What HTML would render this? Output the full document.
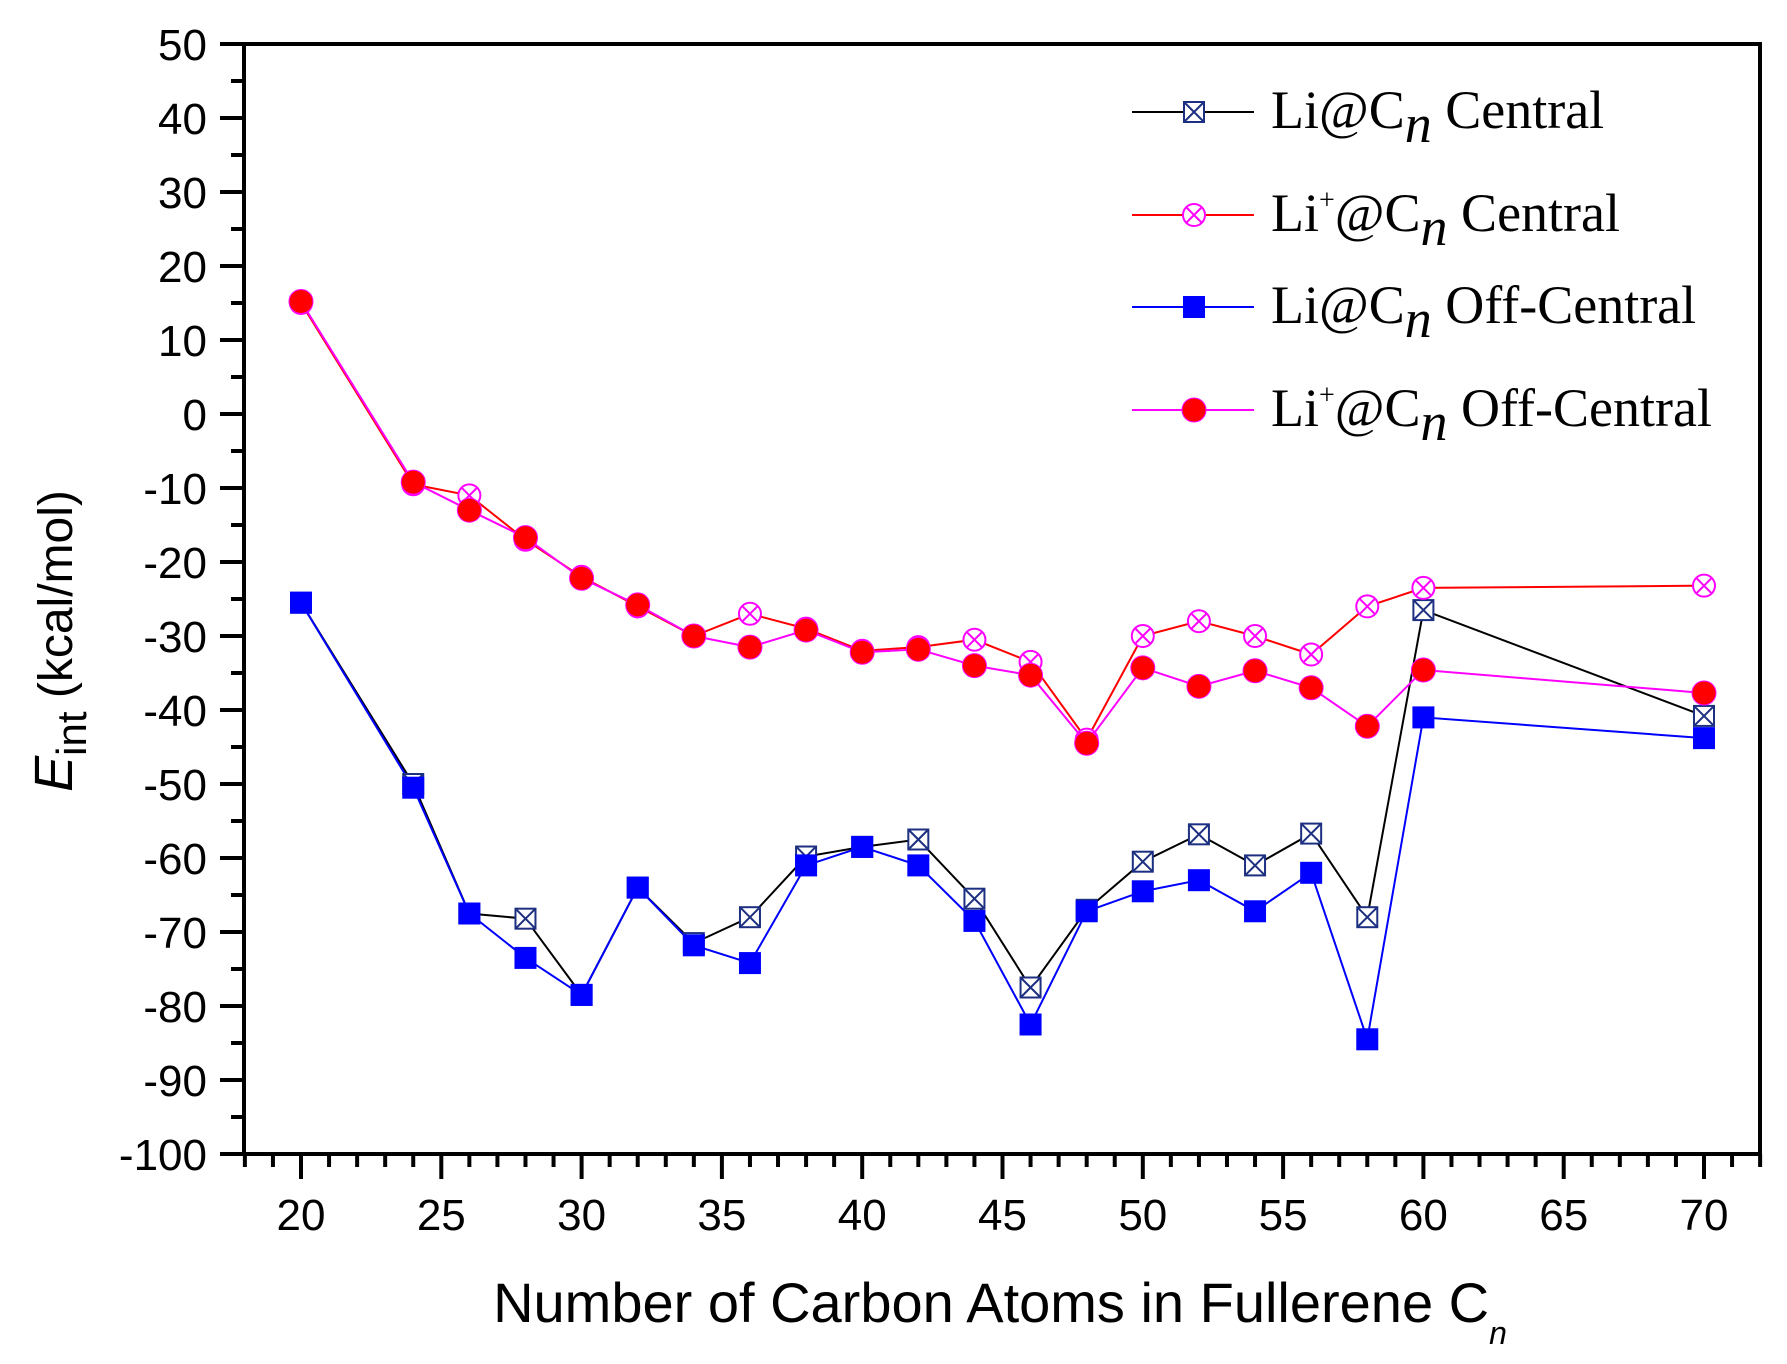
<!DOCTYPE html>
<html><head><meta charset="utf-8"><style>
html,body{margin:0;padding:0;background:#fff}
svg{display:block}
</style></head><body>
<svg id="c" width="1787" height="1364" xmlns="http://www.w3.org/2000/svg">
<g id="g"></g>
<g font-family="Liberation Sans, Arial, sans-serif" font-size="44" fill="#000" text-anchor="end" id="yl"></g>
<g font-family="Liberation Sans, Arial, sans-serif" font-size="44" fill="#000" text-anchor="middle" id="xl"></g>
<text x="1000" y="1322" font-family="Liberation Sans, Arial, sans-serif" font-size="56" text-anchor="middle">Number of Carbon Atoms in Fullerene C<tspan font-size="32" font-style="italic" dy="22">n</tspan></text>
<text transform="translate(72,641) rotate(-90)" font-family="Liberation Sans, Arial, sans-serif" font-size="48" text-anchor="middle"><tspan font-style="italic" font-size="54">E</tspan><tspan font-size="42" dy="14">int</tspan><tspan dy="-14"> (kcal/mol)</tspan></text>
<g font-family="Liberation Serif, serif" font-size="54" fill="#000">
<text x="1271" y="128">Li@C<tspan font-style="italic" dy="14">n</tspan><tspan dy="-14"> Central</tspan></text>
<text x="1271" y="231">Li<tspan font-size="28" dy="-22">+</tspan><tspan dy="22">@C</tspan><tspan font-style="italic" dy="14">n</tspan><tspan dy="-14"> Central</tspan></text>
<text x="1271" y="323">Li@C<tspan font-style="italic" dy="14">n</tspan><tspan dy="-14"> Off-Central</tspan></text>
<text x="1271" y="426">Li<tspan font-size="28" dy="-22">+</tspan><tspan dy="22">@C</tspan><tspan font-style="italic" dy="14">n</tspan><tspan dy="-14"> Off-Central</tspan></text>
</g>
</svg>
<script>
const NS="http://www.w3.org/2000/svg";
const g=document.getElementById('g');
function el(t,a,p){const e=document.createElementNS(NS,t);for(const k in a)e.setAttribute(k,a[k]);(p||g).appendChild(e);return e;}
const X=n=>301+28.06*(n-20), Y=v=>414-7.4*v;
const L=244,R=1760,T=44,B=1154;
el('rect',{x:L,y:T,width:R-L,height:B-T,fill:'none',stroke:'#000','stroke-width':4});
for(let v=-100;v<=50;v+=5){const maj=v%10===0;el('line',{x1:L-(maj?24:13),x2:L,y1:Y(v),y2:Y(v),stroke:'#000','stroke-width':4});
 if(maj){const t=el('text',{x:207,y:Y(v)+16},document.getElementById('yl'));t.textContent=v;}}
for(let n=18;n<=72;n++){const maj=n%5===0;el('line',{x1:X(n),x2:X(n),y1:B,y2:B+(maj?25:13),stroke:'#000','stroke-width':4});
 if(maj&&n>=20&&n<=70){const t=el('text',{x:X(n),y:1230},document.getElementById('xl'));t.textContent=n;}}
const N=[20,24,26,28,30,32,34,36,38,40,42,44,46,48,50,52,54,56,58,60,70];
const A=[-25.5,-50,-67.5,-68.2,-78.5,-64,-71.5,-68,-59.8,-58.5,-57.5,-65.5,-77.5,-67,-60.5,-56.8,-61,-56.7,-68,-26.5,-40.8];
const Bv=[-25.5,-50.5,-67.5,-73.5,-78.5,-64,-71.8,-74.2,-61,-58.5,-61,-68.5,-82.5,-67.2,-64.5,-63,-67.2,-62,-84.5,-41,-43.8];
const C=[15,-9.5,-11,-17,-22,-26,-30,-27,-29,-32,-31.5,-30.5,-33.5,-44,-30,-28,-30,-32.5,-26,-23.5,-23.2];
const D=[15.2,-9.2,-13,-16.7,-22.2,-25.8,-30,-31.5,-29.2,-32.2,-31.8,-34,-35.3,-44.5,-34.3,-36.8,-34.7,-37,-42.2,-34.6,-37.7];
function line(vals,col){el('polyline',{points:N.map((n,i)=>X(n)+','+Y(vals[i])).join(' '),fill:'none',stroke:col,'stroke-width':2});}
function sqx(x,y){el('rect',{x:x-10,y:y-10,width:20,height:20,fill:'#fff',stroke:'#1c2f80','stroke-width':2});
 el('path',{d:`M${x-10} ${y-10}L${x+10} ${y+10}M${x+10} ${y-10}L${x-10} ${y+10}`,stroke:'#1c2f80','stroke-width':2});}
function cx(x,y){el('circle',{cx:x,cy:y,r:11,fill:'#fff',stroke:'#f0f','stroke-width':2});
 el('path',{d:`M${x-8} ${y-8}L${x+8} ${y+8}M${x+8} ${y-8}L${x-8} ${y+8}`,stroke:'#f0f','stroke-width':2});}
function sq(x,y){el('rect',{x:x-11,y:y-11,width:22,height:22,fill:'#0000ff'});}
function dot(x,y){el('circle',{cx:x,cy:y,r:12,fill:'#ff0000',stroke:'#f0f','stroke-width':1});}
line(A,'#000');line(C,'#ff0000');line(Bv,'#0000ff');line(D,'#ff00ff');
N.forEach((n,i)=>{sqx(X(n),Y(A[i]));cx(X(n),Y(C[i]));sq(X(n),Y(Bv[i]));dot(X(n),Y(D[i]));});
const leg=[[112,'#000',sqx],[215,'#ff0000',cx],[307,'#0000ff',sq],[410,'#ff00ff',dot]];
leg.forEach(([y,c,f])=>{el('line',{x1:1132,x2:1254,y1:y,y2:y,stroke:c,'stroke-width':2});f(1194,y);});
</script>
</body></html>
